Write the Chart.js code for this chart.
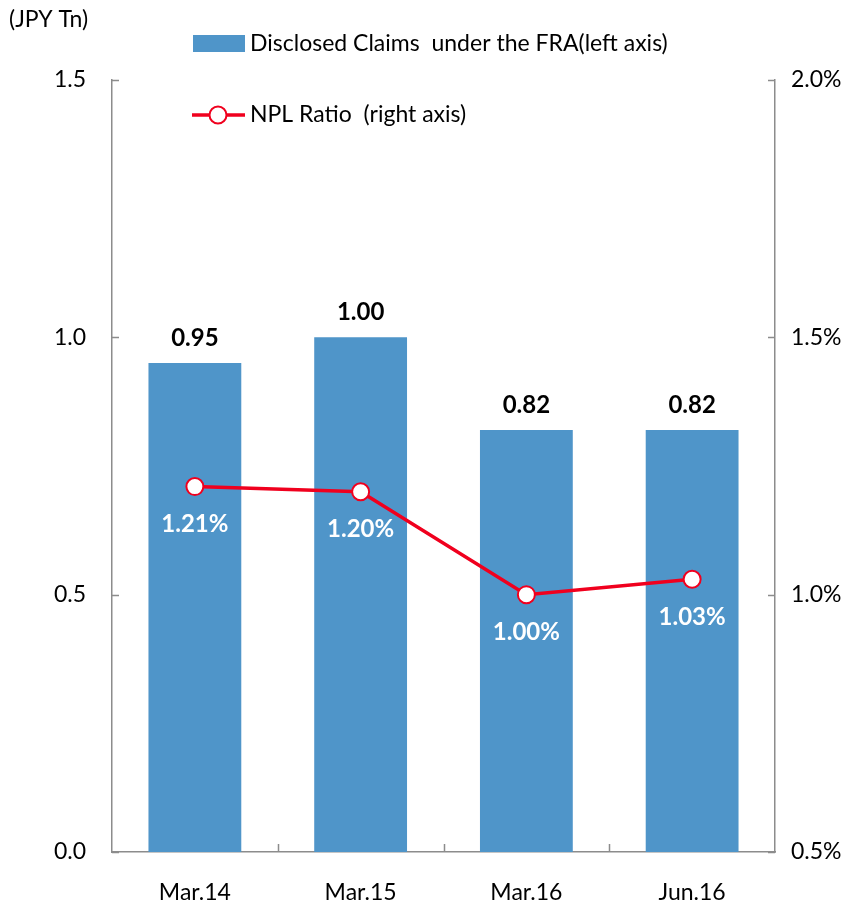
<!DOCTYPE html>
<html>
<head>
<meta charset="utf-8">
<script src="https://cdn.jsdelivr.net/npm/chart.js@4"></script>
<style>
	html, body { margin: 0; padding: 0; background: #fff; }
	#box { width: 857px; height: 901px; }
</style>
</head>
<body>
<div id="box"><canvas id="graficoNpl"></canvas></div>
<script>
var periodos = ['Mar.14', 'Mar.15', 'Mar.16', 'Jun.16'];
var creditos = [0.95, 1.00, 0.82, 0.82];
var rotulosCreditos = ['0.95', '1.00', '0.82', '0.82'];
var razaoNpl = [1.21, 1.20, 1.00, 1.03];
var ticksEsquerda = [0.0, 0.5, 1.0, 1.5];
var ticksDireita = [0.5, 1.0, 1.5, 2.0];

var FONTE = "Lato, 'Open Sans', sans-serif";
var AZUL = '#4F95C9';
var VERMELHO = '#F0001E';
var CINZA = '#8C8C8C';

// marcas de escala pra dentro, rotulos e legenda
var extras = {
	id: 'extras',
	afterDraw: function(chart) {
		var ctx = chart.ctx;
		var area = chart.chartArea;
		var x = chart.scales.x;
		var y = chart.scales.y;
		var y2 = chart.scales.y2;

		ctx.save();
		ctx.strokeStyle = CINZA;
		ctx.lineWidth = 1.5;
		ctx.beginPath();
		ticksEsquerda.forEach(function(v) {
			var py = Math.round(y.getPixelForValue(v)) + 0.5;
			ctx.moveTo(area.left, py);
			ctx.lineTo(area.left + 7, py);
		});
		ticksDireita.forEach(function(v) {
			var py = Math.round(y2.getPixelForValue(v)) + 0.5;
			ctx.moveTo(area.right, py);
			ctx.lineTo(area.right - 7, py);
		});
		for (var i = 1; i < periodos.length; i++) {
			var px = Math.round((x.getPixelForValue(i - 1) + x.getPixelForValue(i)) / 2) + 0.5;
			ctx.moveTo(px, area.bottom);
			ctx.lineTo(px, area.bottom - 8);
		}
		ctx.stroke();

		// rotulos das barras
		ctx.font = 'bold 24px ' + FONTE;
		ctx.textAlign = 'center';
		ctx.textBaseline = 'middle';
		ctx.fillStyle = '#000';
		chart.getDatasetMeta(0).data.forEach(function(bar, i) {
			ctx.fillText(rotulosCreditos[i], bar.x, bar.y - 25);
		});
		// rotulos da linha
		ctx.fillStyle = '#fff';
		chart.getDatasetMeta(1).data.forEach(function(pt, i) {
			ctx.fillText(razaoNpl[i].toFixed(2) + '%', pt.x, pt.y + 38);
		});

		// unidade
		ctx.font = '23px ' + FONTE;
		ctx.fillStyle = '#000';
		ctx.textAlign = 'left';
		ctx.fillText('(JPY Tn)', 9, 20);

		// legenda
		ctx.fillStyle = AZUL;
		ctx.fillRect(193, 35, 52, 17);
		ctx.fillStyle = '#000';
		ctx.fillText(chart.data.datasets[0].label, 250, 44);

		ctx.strokeStyle = VERMELHO;
		ctx.lineWidth = 3.5;
		ctx.beginPath();
		ctx.moveTo(192, 115);
		ctx.lineTo(245, 115);
		ctx.stroke();
		ctx.beginPath();
		ctx.arc(218, 115, 8.5, 0, Math.PI * 2);
		ctx.fillStyle = '#fff';
		ctx.fill();
		ctx.lineWidth = 2;
		ctx.stroke();
		ctx.fillStyle = '#000';
		ctx.fillText(chart.data.datasets[1].label, 250, 115);
		ctx.restore();
	}
};

var grafico = new Chart(document.getElementById('graficoNpl').getContext('2d'), {
	type: 'bar',
	data: {
		labels: periodos,
		datasets: [{
			label: 'Disclosed Claims  under the FRA(left axis)',
			data: creditos,
			backgroundColor: AZUL,
			yAxisID: 'y',
			categoryPercentage: 1,
			barPercentage: 0.56,
			order: 2
		},
		{
			type: 'line',
			label: 'NPL Ratio  (right axis)',
			data: razaoNpl,
			yAxisID: 'y2',
			borderColor: VERMELHO,
			borderWidth: 3.5,
			pointRadius: 8.5,
			pointBorderWidth: 2,
			pointBackgroundColor: '#fff',
			pointBorderColor: VERMELHO,
			order: 1
		}]
	},
	options: {
		responsive: true,
		maintainAspectRatio: false,
		animation: false,
		layout: { padding: { top: 80, left: 0, right: 0, bottom: 0 } },
		plugins: {
			legend: { display: false },
			tooltip: { enabled: false }
		},
		scales: {
			x: {
				offset: true,
				grid: { display: false },
				border: { display: true, color: CINZA, width: 1.5 },
				ticks: { color: '#000', font: { family: FONTE, size: 23 }, padding: 19 },
				afterFit: function(s) { s.height = 49; }
			},
			y: {
				position: 'left',
				min: 0, max: 1.5,
				grid: { display: false, drawTicks: false },
				border: { display: true, color: CINZA, width: 1.5 },
				ticks: {
					stepSize: 0.5, color: '#000', padding: 26,
					font: { family: FONTE, size: 23 },
					callback: function(v) { return v.toFixed(1); }
				},
				afterFit: function(s) { s.width = 112; }
			},
			y2: {
				position: 'right',
				min: 0.5, max: 2.0,
				grid: { display: false, drawTicks: false },
				border: { display: true, color: CINZA, width: 1.5 },
				ticks: {
					stepSize: 0.5, color: '#000', padding: 16,
					font: { family: FONTE, size: 23 },
					callback: function(v) { return v.toFixed(1) + '%'; }
				},
				afterFit: function(s) { s.width = 82; }
			}
		}
	},
	plugins: [extras]
});
</script>
</body>
</html>
